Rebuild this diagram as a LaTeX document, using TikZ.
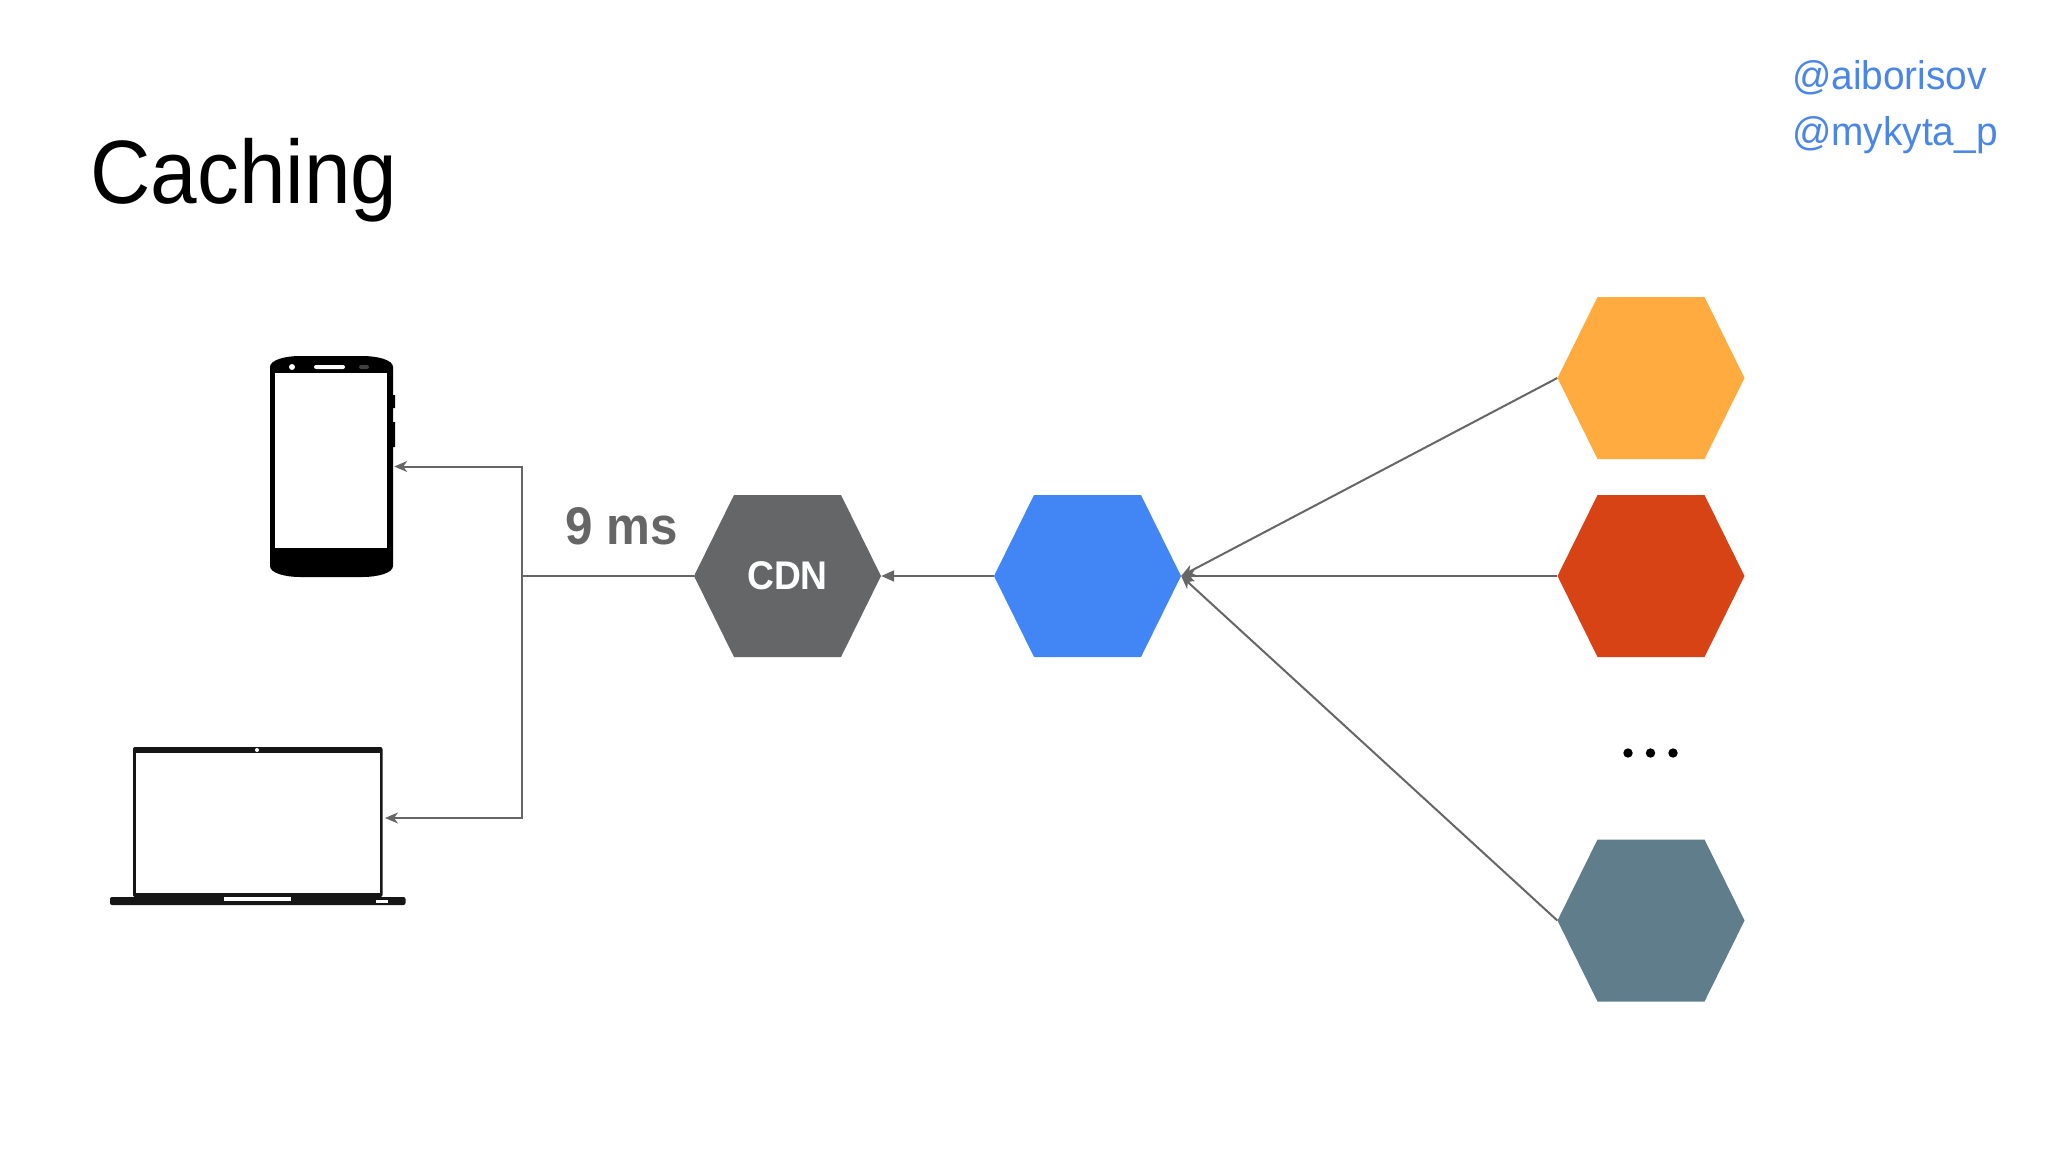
\documentclass[tikz,border=0pt]{standalone}
\usepackage{fontspec}
\usetikzlibrary{arrows.meta}
\newfontfamily\slidefont[FakeStretch=0.93]{Liberation Sans}
\newfontfamily\handlefont[FakeStretch=0.97]{Liberation Sans}
\definecolor{linegray}{HTML}{666666}
\definecolor{cdngray}{HTML}{646667}
\definecolor{hexblue}{HTML}{4285F4}
\definecolor{hexorange}{HTML}{FFAB40}
\definecolor{hexred}{HTML}{D84315}
\definecolor{hexslate}{HTML}{607D8B}
\definecolor{handleblue}{HTML}{4A86E8}
\definecolor{laptopblack}{HTML}{161616}
\tikzset{
  hexa/.style={rectangle, minimum width=187pt, minimum height=162pt, inner sep=0pt, text=white,
    path picture={\fill[#1]
      (path picture bounding box.west)
      -- ([xshift=40pt]path picture bounding box.north west)
      -- ([xshift=-40pt]path picture bounding box.north east)
      -- (path picture bounding box.east)
      -- ([xshift=-40pt]path picture bounding box.south east)
      -- ([xshift=40pt]path picture bounding box.south west)
      -- cycle;}},
  label text/.style={inner sep=0pt, anchor=base west},
  conn/.style={draw=linegray, line width=2pt},
  openarrow/.style={conn, -{Stealth[length=13pt,width=11pt,inset=4pt,fill=linegray]}},
  solidarrow/.style={conn, -{Triangle[length=13pt,width=11pt,fill=linegray]}},
  devicebox/.style={rectangle, inner sep=0pt, minimum width=#1},
}
\begin{document}
\begin{tikzpicture}[x=1pt,y=-1pt,font=\slidefont]
\useasboundingbox[fill=white] (0,0) rectangle (2048,1152);

% texts
\node[label text, text=black, font=\slidefont\fontsize{90}{90}\selectfont] (title) at (90,203) {Caching};
\node[label text, text=handleblue, font=\handlefont\fontsize{40}{40}\selectfont] (handleone) at (1792,89) {@aiborisov};
\node[label text, text=handleblue, font=\handlefont\fontsize{40}{40}\selectfont] (handletwo) at (1792,145) {@mykyta\_p};
\node[label text, text=linegray, font=\slidefont\bfseries\fontsize{53}{53}\selectfont] (latency) at (565,544) {9 ms};

% hexagons
\node[hexa=cdngray, font=\slidefont\bfseries\fontsize{40}{40}\selectfont] (cdn) at (787.5,576) {\raisebox{1.5pt}{CDN}};
\node[hexa=hexblue] (blue) at (1087.5,576) {};
\node[hexa=hexorange] (orange) at (1651,378) {};
\node[hexa=hexred] (red) at (1651,576) {};
\node[hexa=hexslate] (slate) at (1651,920.5) {};

% ellipsis
\fill[black] (1628,753) circle (4.7) (1650.5,753) circle (4.7) (1673,753) circle (4.7);

% phone
\node[devicebox=124pt, minimum height=221pt] (phone) at (332,466.5) {};
\fill[black] (270,367)
  .. controls (270,360) and (285,356) .. (300,356) -- (362,356)
  .. controls (378,356) and (393,360) .. (393,367) -- (393,566)
  .. controls (393,573) and (378,577) .. (362,577) -- (300,577)
  .. controls (285,577) and (270,573) .. (270,566) -- cycle;
\fill[black] (392,395) rectangle (395,408) (392,422) rectangle (395,447);
\fill[white] (275,373) rectangle (387,548);
\fill[white] (292,367) circle (3);
\fill[white,rounded corners=2pt] (314,365) rectangle (345,369);
\fill[black!75,rounded corners=2pt] (359,365) rectangle (369,369);

% laptop
\node[devicebox=249pt, minimum height=142pt] (laptop) at (257.5,818) {};
\fill[laptopblack,rounded corners=2pt] (133,747) rectangle (382.5,897);
\fill[laptopblack,rounded corners=2pt] (110,897) rectangle (405.5,905);
\fill[white] (135.5,753) rectangle (380,893);
\fill[white] (257,750) circle (2);
\fill[white] (224,897) rectangle (291,901);
\fill[white] (376,900) rectangle (388,903);

% connectors
\coordinate (branch) at (521.5,576);
\coordinate (laptopport) at (385,818);
\draw[openarrow] (orange.west) -- (blue.east);
\draw[openarrow] (red.west) -- (blue.east);
\draw[openarrow] (slate.west) -- (blue.east);
\draw[solidarrow] (blue.west) -- (cdn.east);
\draw[conn] (cdn.west) -- (branch);
\draw[openarrow] (branch) |- (phone.east);
\draw[openarrow] (branch) |- (laptopport);
\end{tikzpicture}
\end{document}
